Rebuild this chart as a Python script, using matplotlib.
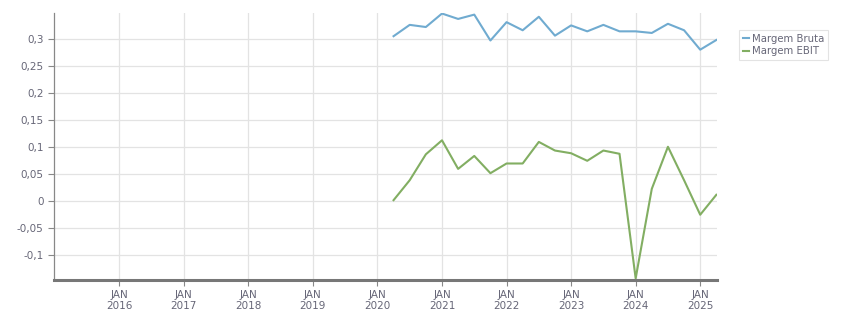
import matplotlib
matplotlib.use("Agg")
import matplotlib.pyplot as plt
import numpy as np

# Quarterly data, Apr 2020 .. Apr 2025 (decimal years)
quarters = [2020.25 + 0.25 * i for i in range(21)]
margem_bruta = [0.306, 0.327, 0.323, 0.348, 0.338, 0.346, 0.298, 0.332, 0.317, 0.342,
                0.307, 0.326, 0.315, 0.327, 0.315, 0.315, 0.312, 0.329, 0.317, 0.281, 0.299]
margem_ebit = [0.002, 0.039, 0.087, 0.113, 0.060, 0.084, 0.052, 0.070, 0.070, 0.110,
               0.094, 0.089, 0.075, 0.094, 0.088, -0.143, 0.023, 0.101, 0.039, -0.025, 0.012]
years = list(range(2016, 2026))
xtick_labels = [f"JAN\n{y}" for y in years]
yticks = [-0.1, -0.05, 0, 0.05, 0.1, 0.15, 0.2, 0.25, 0.3]
ytick_labels = ["-0,1", "-0,05", "0", "0,05", "0,1", "0,15", "0,2", "0,25", "0,3"]

W, H = 851, 313
fig = plt.figure(figsize=(W / 100, H / 100), dpi=100)
ax = fig.add_axes([54 / W, 1 - 280 / H, (717 - 54) / W, (280 - 13) / H])

ax.plot(quarters, margem_bruta, color="#70abd0", lw=1.5, label="Margem Bruta")
ax.plot(quarters, margem_ebit, color="#82ae62", lw=1.5, label="Margem EBIT")

ax.set_xlim(2014.99, 2025.26)
ax.set_ylim(-0.146, 0.349)
ax.set_xticks(years)
ax.set_xticklabels(xtick_labels)
ax.set_yticks(yticks)
ax.set_yticklabels(ytick_labels)

ax.grid(True, color="#e3e3e3", lw=0.9)
ax.set_axisbelow(True)
for s in ["top", "right"]:
    ax.spines[s].set_visible(False)
ax.spines["left"].set_color("#888888")
ax.spines["left"].set_linewidth(0.9)
ax.spines["bottom"].set_color("#777777")
ax.spines["bottom"].set_linewidth(2.2)
ax.tick_params(axis="both", colors="#888888", labelcolor="#666677", labelsize=7.5,
               length=4, width=0.8)
ax.tick_params(axis="x", pad=3)

leg = fig.legend(loc="upper left", bbox_to_anchor=(739 / W, 1 - 30 / H), frameon=True,
                 fontsize=7.3, handlelength=0.6, handletextpad=0.3, borderpad=0.35,
                 labelspacing=0.25, fancybox=False, borderaxespad=0)
leg.get_frame().set_edgecolor("#dddddd")
leg.get_frame().set_linewidth(0.8)
for t in leg.get_texts():
    t.set_color("#666677")

fig.savefig("out.png", dpi=100)
